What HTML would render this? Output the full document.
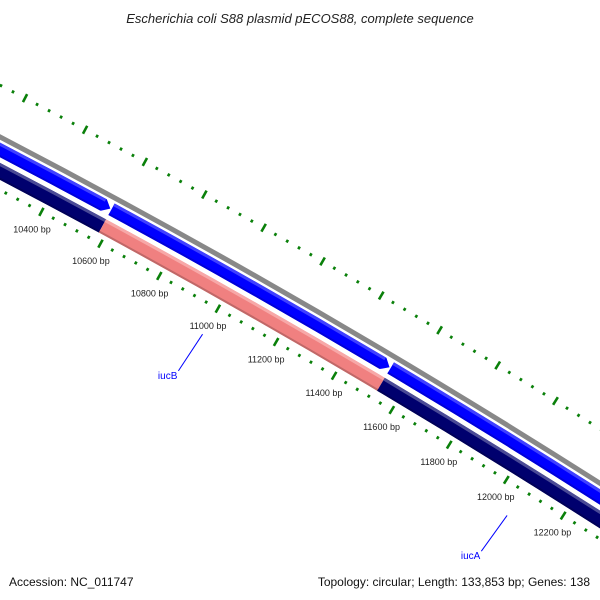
<!DOCTYPE html>
<html><head><meta charset="utf-8"><style>
body{margin:0;background:#fff;overflow:hidden}
svg{display:block;font-family:"Liberation Sans","DejaVu Sans",sans-serif}
</style></head><body>
<svg id="map" width="600" height="600" viewBox="0 0 600 600">
<text x="300" y="23" text-anchor="middle" font-size="13" font-style="italic" fill="#222">Escherichia coli S88 plasmid pECOS88, complete sequence</text>
<text x="9" y="586" font-size="12" fill="#111">Accession: NC_011747</text>
<text x="590" y="586" text-anchor="end" font-size="12" fill="#111">Topology: circular; Length: 133,853 bp; Genes: 138</text>
<g id="layer"></g>
</svg>
<script>
// data
const tickStart = 9800;
const tickEnd = 12800;
const majorStep = 200;
const minorStep = 40;
const labelBp = [10400,10600,10800,11000,11200,11400,11600,11800,12000,12200];
const geneStarts = [9500, 10580, 11533, 9500, 10580, 11533];
const geneEnds = [10580, 11533, 12900, 10580, 11533, 12900];
const geneStrands = [1, 1, 1, -1, -1, -1];
const geneNames = ["", "", "", "", "iucB", "iucA"];
const calloutBp = [11000, 12060];

// geometry
const CX=-3696, CY=7232;
function ang(bp){return (-61.97 + (bp-10400)*0.002417)*Math.PI/180;}
function pt(bp,r){const a=ang(bp);return [CX+r*Math.cos(a), CY+r*Math.sin(a)];}
function arcPath(b1,b2,r){const p=pt(b1,r),q=pt(b2,r);return `M${p[0]},${p[1]} A${r},${r} 0 0 1 ${q[0]},${q[1]}`;}
const NS="http://www.w3.org/2000/svg";
const layer=document.getElementById('layer');
function mk(tag,attrs){const e=document.createElementNS(NS,tag);for(const k in attrs)e.setAttribute(k,attrs[k]);layer.appendChild(e);return e;}

// backbone
let bb=mk('path',{d:arcPath(9500,12900,8000),stroke:'#888',"stroke-width":5,fill:'none'});



// genes
function band(b1,b2,rOut,rIn,fill,arrowEnd){
  const al=22;
  let d;
  if(arrowEnd){
    const e=b2-al;
    const a=pt(b1,rOut),b=pt(e,rOut),tip=pt(b2,(rOut+rIn)/2),c=pt(e,rIn),f=pt(b1,rIn);
    d=`M${a[0]},${a[1]} A${rOut},${rOut} 0 0 1 ${b[0]},${b[1]} L${tip[0]},${tip[1]} L${c[0]},${c[1]} A${rIn},${rIn} 0 0 0 ${f[0]},${f[1]}Z`;
  } else {
    const a=pt(b1,rOut),b=pt(b2,rOut),c=pt(b2,rIn),f=pt(b1,rIn);
    d=`M${a[0]},${a[1]} A${rOut},${rOut} 0 0 1 ${b[0]},${b[1]} L${c[0]},${c[1]} A${rIn},${rIn} 0 0 0 ${f[0]},${f[1]}Z`;
  }
  return mk('path',{d:d,fill:fill});
}
for(let i=0;i<geneStarts.length;i++){
  const fwd=geneStrands[i]>0;
  const pink=geneNames[i]==="iucB";
  const rOut=fwd?7995:7977, rIn=fwd?7982:7962;
  const main=fwd?'#0000ff':(pink?'#f08080':'#00006e');
  const hi=fwd?'#4040ff':(pink?'#f7a8a8':'#4a4a96');
  const lo=fwd?'#0000d8':(pink?'#c06868':'#000058');
  const s=geneStarts[i], e=fwd?geneEnds[i]-4:geneEnds[i];
  const g=band(s,e,rOut,rIn,main,fwd);
  
  
  const h=band(s,fwd?e-24:e,rOut,rOut-3,hi,false);
  
  
  const l=band(s,fwd?e-24:e,rIn+2,rIn,lo,false);
  
  
}

// ticks (outer and inner rulers)
for(let bp=tickStart;bp<=tickEnd;bp+=minorStep){
  const major=(bp%majorStep===0);
  [[8046,'outer'],[7953,'inner']].forEach(([r,side])=>{
    const len=major?9:3;
    const p=pt(bp,r-len/2),q=pt(bp,r+len/2);
    const t=mk('line',{x1:p[0],y1:p[1],x2:q[0],y2:q[1],stroke:'#0a800a',"stroke-width":2.6});
    
    
  });
}
labelBp.forEach(bp=>{
  const p=pt(bp,7933);
  const t=mk('text',{x:p[0],y:p[1]+3,"text-anchor":"middle","font-size":9,fill:'#222'});
  t.textContent=bp+' bp';
  
  
});

// gene callouts
const calloutNames=["iucB","iucA"];
calloutBp.forEach((bp,i)=>{
  const p=pt(bp,7926),q=pt(bp,7885);
  const q2=[q[0]-6,q[1]+3];
  const ln=mk('line',{x1:p[0]-2,y1:p[1]+2,x2:q2[0],y2:q2[1],stroke:'#0000ff',"stroke-width":1});
  
  
  const t=mk('text',{x:q2[0]-1,y:q2[1]+8,"text-anchor":"end","font-size":10,fill:'#0000ff'});
  t.textContent=calloutNames[i];
  
  
});
</script>
</body></html>
